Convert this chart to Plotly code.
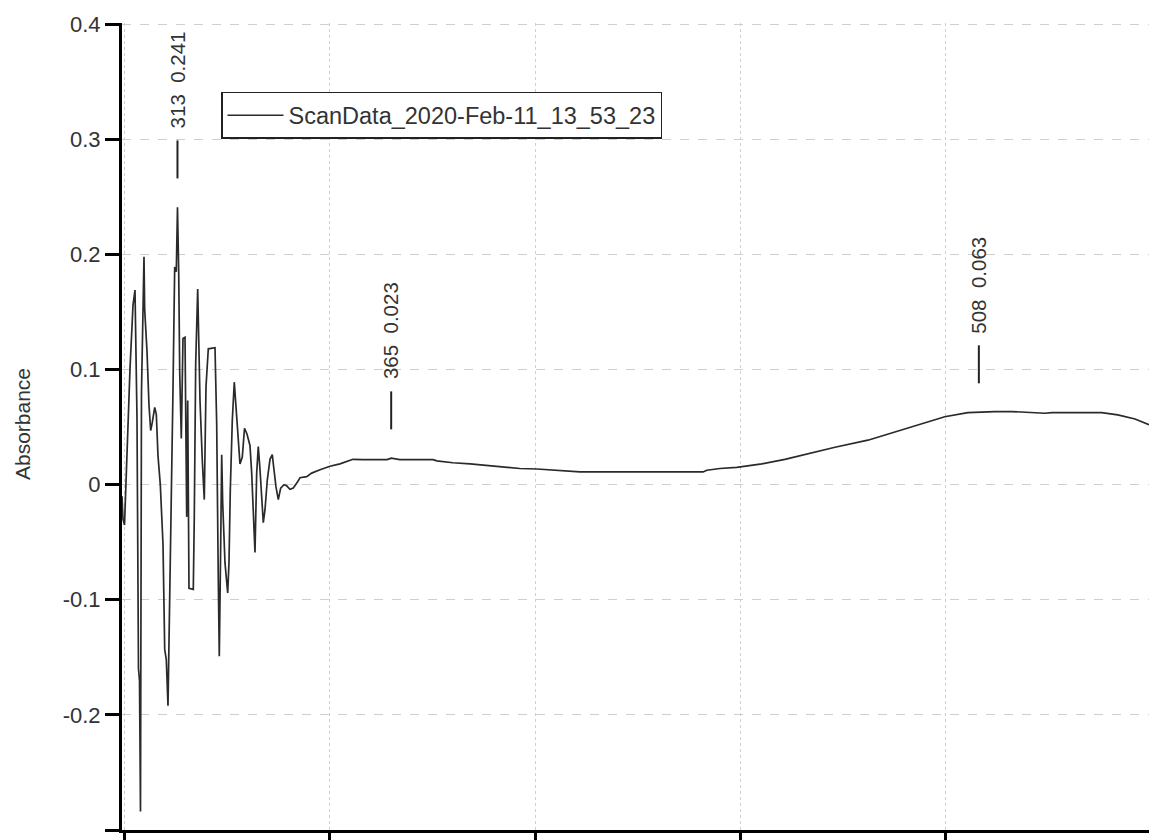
import plotly.graph_objects as go

# --- data ---
noisy_nm = [299.50, 299.74, 300.11, 300.47, 300.96, 301.45, 302.18, 302.66, 303.15, 303.51,
            303.76, 304.00, 304.24, 304.61, 304.85, 305.02, 305.58, 306.07, 306.48, 306.87,
            307.46, 307.85, 308.26, 308.82, 309.48, 309.89, 310.28, 310.69, 311.11, 311.50,
            311.91, 312.32, 312.71, 313.00, 313.30, 313.54, 313.93, 314.34, 314.83, 315.24,
            315.49, 315.80, 316.85, 317.09, 317.43, 317.92, 318.23, 318.48, 319.04, 319.52,
            319.94, 320.50, 322.13, 322.54, 322.93, 323.17, 323.51, 323.76, 324.00, 324.56,
            325.22, 325.53, 325.85, 326.34, 326.82, 327.16, 327.65, 328.21, 328.77, 329.31,
            329.91, 330.64, 331.06, 331.45, 331.86, 332.27, 332.66, 333.08, 333.64, 333.88,
            334.29, 334.85, 335.51, 336.07, 336.48, 336.97, 337.53, 338.11, 338.92, 339.57,
            340.38, 341.18, 342.15, 342.81, 344.44, 345.66, 347.68, 350.11, 352.54]
noisy_abs = [-0.010, -0.030, -0.035, 0.000, 0.058, 0.101, 0.156, 0.169, 0.058, -0.160,
             -0.170, -0.284, 0.080, 0.150, 0.198, 0.152, 0.116, 0.069, 0.047, 0.054,
             0.067, 0.061, 0.025, 0.000, -0.052, -0.143, -0.152, -0.192, -0.081, -0.008,
             0.083, 0.189, 0.185, 0.241, 0.185, 0.098, 0.040, 0.127, 0.128, -0.028,
             0.073, -0.090, -0.091, -0.028, 0.105, 0.170, 0.105, 0.073, 0.021, -0.013,
             0.085, 0.118, 0.119, 0.053, -0.082, -0.149, -0.054, 0.026, -0.016, -0.068,
             -0.094, -0.068, -0.005, 0.056, 0.089, 0.073, 0.047, 0.018, 0.024, 0.049,
             0.044, 0.034, 0.010, -0.033, -0.059, 0.010, 0.033, 0.013, -0.019, -0.033,
             -0.022, 0.004, 0.022, 0.026, 0.013, -0.002, -0.013, -0.003, 0.000, -0.001,
             -0.004, -0.003, 0.002, 0.006, 0.007, 0.010, 0.013, 0.016, 0.018]

smooth_nm = [355.7, 358.1, 361.1, 364.0, 365.0, 367.1, 370.8, 375.2, 376.1, 380.0,
             384.2, 388.3, 393.2, 396.3, 400.5, 403.6, 407.3, 410.9, 420.7, 430.4,
             440.9, 441.8, 445.0, 449.1, 455.2, 460.8, 466.4, 473.0, 481.0, 486.8,
             493.2, 499.7, 505.3, 508.0, 511.9, 516.0, 520.4, 524.1, 525.8, 531.4,
             537.9, 541.8, 546.0, 549.4]
smooth_abs = [0.0220, 0.0217, 0.0217, 0.0217, 0.0230, 0.0217, 0.0217, 0.0217, 0.0206, 0.0190,
              0.0180, 0.0165, 0.0150, 0.0140, 0.0136, 0.0130, 0.0120, 0.0110, 0.0110, 0.0110,
              0.0110, 0.0125, 0.0140, 0.0150, 0.0180, 0.0220, 0.0270, 0.0325, 0.0386, 0.0450,
              0.0520, 0.0590, 0.0625, 0.0630, 0.0635, 0.0635, 0.0625, 0.0620, 0.0625, 0.0625,
              0.0625, 0.0606, 0.0570, 0.0520]

peak_nm = [313, 365, 508]
peak_abs = [0.241, 0.023, 0.063]

y_tick_vals = [0.4, 0.3, 0.2, 0.1, 0, -0.1, -0.2, -0.3]
y_tick_text = ["0.4", "0.3", "0.2", "0.1", "0", "-0.1", "-0.2", "-0.3"]
x_tick_vals = [300, 350, 400, 450, 500, 550]

series_name = "ScanData_2020-Feb-11_13_53_23"

wavelength = noisy_nm + smooth_nm
absorbance = noisy_abs + smooth_abs

FONT = "Liberation Sans, Arial, sans-serif"
TXT = "#333333"

fig = go.Figure()
fig.add_trace(go.Scatter(
    x=wavelength, y=absorbance, mode="lines", name=series_name,
    line=dict(color="#2a2a2a", width=1.7),
))

# peak markers + labels
for nm, v in zip(peak_nm, peak_abs):
    fig.add_shape(type="line", xref="x", yref="y", x0=nm, x1=nm,
                  y0=v + 0.025, y1=v + 0.058,
                  line=dict(color="#222222", width=2))
    fig.add_annotation(x=nm, y=v + 0.058, xref="x", yref="y",
                       text=f"{nm}\u00a0\u00a0{v:.3f}", showarrow=False,
                       textangle=-90, xanchor="center", yanchor="bottom", yshift=10,
                       font=dict(family=FONT, size=20.5, color=TXT))

# y-axis title
fig.add_annotation(text="Absorbance", xref="paper", yref="paper",
                   x=-0.0974, y=0.503, showarrow=False, textangle=-90,
                   xanchor="center", yanchor="middle",
                   font=dict(family=FONT, size=21, color=TXT))

fig.update_layout(
    width=1149, height=840,
    margin=dict(l=122, r=0, t=23, b=10),
    paper_bgcolor="white", plot_bgcolor="white",
    showlegend=True,
    legend=dict(x=0.0964, y=0.9145, xanchor="left", yanchor="top",
                bgcolor="white", bordercolor="#222222", borderwidth=1.5,
                itemwidth=56,
                font=dict(family=FONT, size=23.5, color=TXT)),
    font=dict(family=FONT, color=TXT),
)
fig.update_xaxes(
    range=[299.5, 549.4], tickvals=x_tick_vals, showticklabels=False,
    ticks="outside", ticklen=10, tickwidth=2.5, tickcolor="black",
    showline=True, linewidth=3, linecolor="black",
    showgrid=True, gridcolor="#cfcfcf", gridwidth=1, griddash="dot",
    zeroline=False,
)
fig.update_yaxes(
    range=[-0.3, 0.401], tickvals=y_tick_vals, ticktext=y_tick_text,
    ticks="outside", ticklen=14, tickwidth=3, tickcolor="black",
    showline=True, linewidth=3, linecolor="black",
    showgrid=True, gridcolor="#cfcfcf", gridwidth=1, griddash="dash",
    zeroline=False, tickfont=dict(family=FONT, size=22, color=TXT),
)

fig.write_html("out.html")
